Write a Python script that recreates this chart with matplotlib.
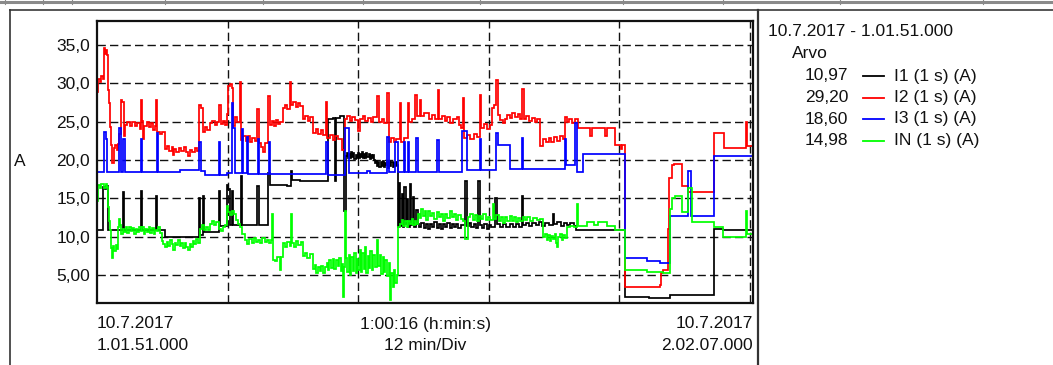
import matplotlib
matplotlib.use("Agg")
import matplotlib.pyplot as plt

plt.rcParams['font.family'] = ['Liberation Sans', 'DejaVu Sans']

# ---------------- data (time in minutes from 1:01:51, current in A) ----------------
I1 = [(0.00, 10.9), (0.55, 16.5), (0.70, 16.2), (0.85, 16.6), (1.01, 10.9), (2.39, 15.8), (2.50, 10.9),
      (4.04, 16.0), (4.15, 10.9), (5.45, 15.3), (5.55, 10.9), (6.25, 10.0), (7.50, 9.9), (9.37, 15.1),
      (9.50, 10.2), (9.70, 15.3), (9.82, 10.6), (11.21, 16.0), (11.32, 11.4), (11.94, 16.8), (12.04, 16.2),
      (12.22, 11.5), (12.40, 16.0), (12.50, 11.5), (13.20, 17.9), (13.32, 11.5), (14.70, 16.6), (14.85, 11.5),
      (15.71, 18.3), (15.85, 16.7), (16.50, 16.8), (17.50, 16.6), (17.82, 18.6), (17.92, 17.4), (18.65, 17.2),
      (19.50, 17.3), (21.22, 25.3), (21.70, 25.5), (21.87, 17.3), (21.96, 25.5), (22.33, 25.7), (22.70, 13.4),
      (22.85, 20.5), (22.95, 20.9), (23.05, 20.2), (23.15, 20.8), (23.25, 20.3), (23.35, 21.0), (23.45, 20.4),
      (23.55, 20.9), (23.65, 20.1), (23.75, 20.7), (23.85, 20.3), (23.95, 20.9), (24.05, 20.2), (24.15, 20.8),
      (24.25, 20.4), (24.35, 21.0), (24.45, 20.3), (24.55, 20.8), (24.65, 20.2), (24.75, 20.9), (24.85, 20.4),
      (24.95, 20.8), (25.05, 20.1), (25.15, 20.7), (25.25, 20.3), (25.35, 20.6), (25.45, 20.0), (25.55, 19.6),
      (25.65, 19.9), (25.75, 19.2), (25.85, 19.8), (25.95, 19.1), (26.05, 19.7), (26.15, 19.2), (26.25, 19.9),
      (26.35, 19.1), (26.45, 19.6), (26.55, 19.3), (26.65, 19.8), (26.75, 19.0), (26.85, 19.7), (26.95, 19.2),
      (27.05, 19.8), (27.15, 19.1), (27.25, 19.6), (27.35, 19.2), (27.45, 19.8), (27.55, 19.3), (27.66, 11.2),
      (27.75, 17.0), (27.85, 11.4), (28.00, 15.5), (28.10, 11.3), (28.25, 16.5), (28.35, 11.6), (28.50, 14.9),
      (28.60, 11.2), (28.75, 16.9), (28.85, 11.5), (29.00, 15.2), (29.10, 11.3), (29.35, 13.5), (29.45, 11.7),
      (29.60, 11.2), (29.80, 11.8), (30.00, 11.1), (30.20, 11.7), (30.40, 11.0), (30.60, 11.6), (30.80, 11.2),
      (31.00, 11.9), (31.20, 11.1), (31.40, 11.6), (31.60, 11.0), (31.80, 11.7), (32.00, 11.3), (32.20, 11.8),
      (32.40, 11.1), (32.60, 11.6), (32.80, 11.2), (33.00, 11.7), (33.20, 11.1), (33.40, 11.5), (33.81, 17.2),
      (34.00, 11.4), (34.20, 11.8), (34.40, 11.2), (34.60, 11.7), (34.80, 11.1), (35.01, 17.2), (35.19, 11.5),
      (35.40, 11.1), (35.60, 11.6), (35.80, 11.0), (36.00, 11.5), (36.20, 11.2), (36.57, 15.1), (36.75, 11.6),
      (37.00, 11.2), (37.30, 11.7), (37.60, 11.3), (37.90, 11.7), (38.20, 11.2), (38.50, 11.6), (38.80, 11.3),
      (39.05, 15.3), (39.15, 11.5), (39.40, 11.8), (39.70, 11.4), (40.00, 11.8), (40.30, 11.5), (40.60, 11.9),
      (40.90, 11.4), (41.20, 11.8), (41.50, 11.5), (41.90, 13.0), (42.00, 11.6), (42.30, 11.9), (42.60, 11.4),
      (42.90, 11.8), (43.20, 11.5), (43.50, 11.8), (43.80, 11.4), (44.00, 10.9), (48.51, 2.15), (50.72, 1.95),
      (52.65, 2.35), (56.68, 11.0), (57.51, 10.8), (60.27, 10.8)]

I2 = [(0.00, 28.9), (0.08, 30.6), (0.25, 30.2), (0.40, 31.0), (0.55, 30.6), (0.64, 34.6), (0.75, 33.9),
      (0.85, 34.3), (0.92, 33.7), (1.01, 29.2), (1.12, 27.4), (1.22, 24.3), (1.30, 22.0), (1.40, 19.6),
      (1.52, 21.6), (1.65, 21.9), (1.80, 21.3), (1.93, 22.1), (2.05, 23.4), (2.20, 27.9), (2.32, 27.6),
      (2.45, 23.1), (2.60, 24.6), (2.80, 24.9), (3.00, 24.4), (3.20, 24.9), (3.45, 24.5), (3.70, 24.8),
      (3.95, 24.1), (4.04, 27.9), (4.15, 25.1), (4.23, 22.8), (4.35, 24.4), (4.55, 24.9), (4.75, 24.3),
      (4.95, 24.8), (5.15, 23.9), (5.33, 24.5), (5.42, 27.9), (5.55, 23.7), (5.75, 23.4), (6.00, 23.7),
      (6.25, 21.4), (6.45, 21.8), (6.65, 21.2), (6.85, 21.7), (6.98, 20.6), (7.10, 21.5), (7.30, 21.0),
      (7.50, 21.6), (7.70, 21.2), (7.95, 21.7), (8.15, 21.1), (8.36, 20.5), (8.50, 21.3), (8.75, 21.0),
      (9.00, 21.6), (9.20, 21.2), (9.37, 27.2), (9.55, 26.8), (9.74, 23.7), (9.95, 24.3), (10.15, 23.9),
      (10.35, 24.8), (10.55, 25.1), (10.80, 24.6), (11.03, 25.0), (11.21, 27.2), (11.35, 24.7), (11.55, 25.1),
      (11.76, 24.6), (11.94, 26.0), (12.04, 29.6), (12.22, 29.9), (12.40, 29.4), (12.50, 24.4), (12.68, 25.6),
      (12.85, 24.9), (13.14, 30.2), (13.25, 22.6), (13.45, 23.2), (13.65, 22.5), (13.85, 23.1), (14.05, 22.4),
      (14.25, 22.9), (14.50, 22.5), (14.70, 26.6), (14.85, 22.2), (15.05, 21.7), (15.25, 21.0), (15.44, 22.2),
      (15.71, 28.4), (15.85, 24.6), (16.05, 25.1), (16.25, 24.5), (16.45, 25.2), (16.65, 24.7), (16.85, 25.0),
      (17.09, 26.8), (17.30, 27.2), (17.50, 26.6), (17.73, 30.2), (17.85, 27.2), (18.05, 27.6), (18.25, 26.9),
      (18.45, 27.5), (18.65, 27.0), (18.93, 25.3), (19.15, 25.8), (19.35, 25.1), (19.57, 25.6), (19.85, 23.5),
      (20.10, 24.0), (20.30, 23.4), (20.55, 23.9), (20.80, 23.3), (21.04, 27.6), (21.15, 22.9), (21.40, 23.3),
      (21.65, 22.6), (21.90, 23.2), (22.15, 22.7), (22.51, 21.3), (22.79, 25.3), (23.00, 25.7), (23.20, 25.1),
      (23.45, 25.6), (23.70, 25.2), (23.98, 23.8), (24.16, 25.3), (24.40, 25.8), (24.65, 25.1), (24.90, 25.5),
      (25.15, 25.0), (25.40, 25.6), (25.73, 28.3), (25.90, 25.0), (26.15, 25.4), (26.40, 24.8), (26.65, 28.7),
      (26.80, 22.4), (27.00, 22.9), (27.25, 22.3), (27.50, 22.8), (27.84, 27.5), (27.95, 22.4), (28.20, 22.9),
      (28.57, 27.5), (28.70, 25.0), (28.95, 25.4), (29.22, 28.5), (29.40, 25.7), (29.68, 27.8), (29.80, 25.7),
      (30.05, 26.1), (30.32, 26.2), (30.50, 25.4), (30.75, 25.9), (31.05, 25.3), (31.33, 29.2), (31.45, 25.3),
      (31.70, 25.8), (31.95, 25.1), (32.20, 25.6), (32.45, 24.8), (32.70, 25.4), (33.08, 25.6), (33.25, 24.6),
      (33.45, 24.2), (33.63, 28.1), (33.75, 22.9), (34.00, 23.3), (34.30, 22.8), (34.60, 23.4), (34.90, 23.0),
      (35.19, 28.5), (35.30, 24.2), (35.55, 24.7), (35.80, 24.1), (36.11, 24.6), (36.29, 26.8), (36.50, 27.2),
      (36.66, 30.4), (36.80, 25.9), (37.00, 25.2), (37.30, 24.8), (37.50, 25.4), (37.67, 25.9), (37.90, 25.5),
      (38.15, 26.1), (38.40, 25.6), (38.65, 26.0), (38.85, 25.4), (39.05, 29.3), (39.20, 25.3), (39.45, 25.8),
      (39.70, 25.1), (39.95, 25.5), (40.20, 25.0), (40.43, 25.3), (40.70, 21.8), (40.98, 22.8), (41.25, 22.3),
      (41.50, 22.9), (41.75, 22.4), (42.00, 23.0), (42.25, 22.5), (42.50, 23.1), (42.82, 22.7), (43.00, 25.6),
      (43.18, 24.9), (43.40, 25.3), (43.60, 24.8), (43.92, 25.4), (44.20, 24.2), (45.30, 23.1), (45.50, 24.2),
      (46.68, 23.1), (46.85, 24.2), (47.59, 21.9), (47.85, 22.0), (48.10, 21.4), (48.25, 22.0), (48.51, 3.45),
      (51.73, 3.7), (51.85, 5.2), (52.00, 5.6), (52.45, 11.0), (52.55, 17.7), (52.80, 19.3), (53.00, 19.5),
      (53.72, 16.6), (54.30, 15.8), (56.68, 23.5), (57.58, 21.6), (59.63, 25.0), (59.72, 21.8), (60.27, 21.8)]

I3 = [(0.00, 18.4), (0.64, 23.7), (0.80, 22.7), (0.95, 18.4), (2.02, 24.2), (2.18, 18.4), (2.36, 22.7),
      (2.57, 18.4), (4.04, 22.7), (4.15, 18.4), (5.51, 23.5), (5.62, 18.4), (7.63, 18.65), (9.37, 22.3),
      (9.60, 18.6), (9.92, 18.1), (11.21, 22.3), (11.32, 18.1), (11.94, 18.3), (12.40, 27.4), (12.50, 24.2),
      (12.68, 18.3), (13.32, 24.0), (13.42, 18.3), (13.78, 23.0), (13.88, 18.2), (14.79, 22.8), (14.90, 18.2),
      (15.80, 22.3), (15.90, 18.2), (21.04, 22.3), (21.22, 18.1), (22.79, 24.2), (23.15, 18.35), (24.80, 18.6),
      (25.10, 18.35), (26.65, 23.0), (26.80, 18.4), (27.40, 22.4), (27.66, 18.4), (28.20, 22.3), (28.30, 18.4),
      (28.57, 22.4), (28.70, 18.4), (29.31, 22.9), (29.45, 18.4), (31.24, 22.6), (31.42, 18.4), (33.54, 23.8),
      (34.00, 18.7), (35.19, 22.8), (35.32, 18.7), (36.66, 23.5), (36.84, 22.0), (37.95, 18.8), (39.05, 22.9),
      (39.18, 18.8), (43.00, 22.8), (43.12, 19.4), (43.92, 24.8), (44.10, 18.5), (44.65, 20.8), (48.51, 7.25),
      (50.53, 6.8), (51.73, 6.5), (52.65, 12.7), (54.30, 18.6), (54.60, 12.7), (56.68, 20.5), (60.27, 20.5)]

IN = [(0.00, 14.7), (0.08, 16.8), (0.25, 16.3), (0.40, 16.9), (0.60, 16.4), (0.80, 16.9), (0.92, 16.5),
      (1.01, 13.8), (1.12, 12.0), (1.19, 10.8), (1.30, 8.5), (1.38, 7.2), (1.48, 8.8), (1.58, 8.1), (1.70, 8.9),
      (1.82, 8.4), (1.93, 11.2), (2.05, 12.3), (2.15, 11.5), (2.25, 10.4), (2.35, 11.0), (2.50, 10.6),
      (2.65, 11.2), (2.80, 10.5), (2.95, 11.3), (3.10, 10.7), (3.25, 11.1), (3.40, 10.4), (3.55, 11.0),
      (3.70, 10.6), (3.85, 11.3), (4.00, 10.7), (4.15, 11.2), (4.30, 10.3), (4.45, 11.0), (4.60, 10.6),
      (4.75, 11.2), (4.90, 10.5), (5.05, 11.1), (5.20, 10.4), (5.35, 10.9), (5.50, 10.7), (5.65, 11.2),
      (5.79, 10.5), (5.95, 9.4), (6.10, 9.0), (6.25, 8.6), (6.40, 9.3), (6.55, 8.8), (6.70, 9.6), (6.85, 9.0),
      (7.00, 8.3), (7.15, 9.2), (7.30, 8.9), (7.45, 9.5), (7.60, 8.8), (7.75, 9.2), (7.90, 8.5), (8.05, 9.1),
      (8.20, 8.7), (8.36, 8.2), (8.50, 9.0), (8.65, 8.6), (8.80, 9.4), (8.95, 9.0), (9.10, 9.7), (9.25, 9.2),
      (9.46, 11.0), (9.65, 11.5), (9.85, 10.8), (10.05, 11.3), (10.20, 10.9), (10.38, 11.7), (10.55, 12.1),
      (10.75, 11.5), (10.95, 11.9), (11.21, 11.0), (11.40, 10.7), (11.60, 11.2), (11.80, 11.5), (11.94, 14.0),
      (12.08, 13.2), (12.25, 12.8), (12.40, 13.4), (12.60, 12.9), (12.80, 12.2), (12.96, 11.7), (13.15, 11.2),
      (13.35, 10.4), (13.60, 9.5), (13.80, 9.0), (14.00, 9.7), (14.20, 9.2), (14.40, 9.8), (14.60, 9.3),
      (14.80, 9.6), (15.00, 9.1), (15.20, 9.8), (15.40, 9.3), (15.60, 9.6), (15.80, 9.2), (15.95, 9.5),
      (16.08, 13.0), (16.15, 7.0), (16.35, 6.8), (16.55, 7.3), (16.81, 5.6), (16.95, 7.4), (17.09, 9.1),
      (17.30, 8.6), (17.50, 9.3), (17.70, 8.8), (17.82, 13.0), (17.92, 9.1), (18.10, 8.7), (18.30, 9.4),
      (18.50, 8.9), (18.70, 9.3), (18.93, 7.5), (19.10, 7.9), (19.30, 7.2), (19.55, 7.7), (19.85, 5.8),
      (20.00, 6.3), (20.15, 5.3), (20.30, 6.0), (20.45, 5.5), (20.60, 6.2), (20.75, 5.2), (20.95, 6.0),
      (21.10, 6.6), (21.20, 5.6), (21.35, 6.9), (21.50, 5.9), (21.65, 7.1), (21.80, 5.8), (21.95, 7.0),
      (22.10, 6.2), (22.25, 7.2), (22.40, 5.5), (22.55, 6.4), (22.60, 2.15), (22.70, 6.0), (22.79, 13.4),
      (22.88, 7.2), (23.00, 5.4), (23.12, 7.6), (23.25, 5.0), (23.38, 7.4), (23.50, 5.5), (23.62, 7.8),
      (23.75, 5.2), (23.88, 7.1), (24.00, 5.6), (24.12, 8.2), (24.25, 5.4), (24.38, 7.9), (24.50, 5.8),
      (24.62, 8.6), (24.75, 5.3), (24.88, 7.5), (25.00, 5.9), (25.12, 8.1), (25.25, 5.6), (25.38, 7.6),
      (25.50, 6.0), (25.73, 9.5), (25.85, 6.2), (26.00, 7.6), (26.12, 5.1), (26.25, 7.3), (26.38, 5.4),
      (26.50, 7.0), (26.65, 4.9), (26.80, 6.6), (26.92, 1.7), (27.02, 5.2), (27.15, 3.4), (27.28, 5.6),
      (27.40, 3.9), (27.52, 5.0), (27.66, 11.2), (27.84, 11.7), (28.00, 12.2), (28.15, 11.4), (28.30, 12.0),
      (28.45, 11.3), (28.60, 12.1), (28.75, 11.6), (28.90, 12.3), (29.05, 11.5), (29.20, 12.0), (29.35, 11.7),
      (29.49, 13.0), (29.65, 12.4), (29.80, 13.6), (29.95, 12.7), (30.10, 13.3), (30.25, 12.2), (30.40, 13.4),
      (30.60, 12.7), (30.80, 13.1), (31.00, 12.3), (31.20, 13.2), (31.40, 12.5), (31.60, 13.0), (31.80, 12.1),
      (32.00, 12.9), (32.20, 12.4), (32.40, 13.3), (32.60, 12.5), (32.80, 12.9), (33.00, 12.2), (33.20, 12.8),
      (33.40, 12.3), (33.60, 12.0), (33.81, 9.7), (34.09, 12.5), (34.30, 12.9), (34.50, 12.2), (34.70, 12.8),
      (34.90, 12.1), (35.10, 12.7), (35.30, 12.3), (35.50, 12.9), (35.70, 12.2), (35.90, 12.6), (36.10, 12.2),
      (36.38, 14.3), (36.50, 12.3), (36.70, 12.8), (36.90, 12.0), (37.10, 12.6), (37.30, 11.8), (37.50, 12.5),
      (37.70, 12.1), (37.90, 12.7), (38.10, 12.0), (38.30, 12.6), (38.50, 11.9), (38.70, 12.4), (38.90, 12.0),
      (39.10, 12.6), (39.30, 12.2), (39.50, 12.5), (39.80, 12.1), (40.10, 12.4), (40.40, 12.2), (40.70, 12.3),
      (40.98, 9.9), (41.15, 10.4), (41.30, 9.6), (41.45, 10.2), (41.60, 9.4), (41.75, 10.1), (41.90, 9.7),
      (42.05, 10.3), (42.20, 9.2), (42.27, 8.6), (42.40, 9.9), (42.55, 10.4), (42.70, 9.5), (42.85, 10.2),
      (43.00, 9.8), (43.18, 11.3), (43.50, 11.4), (43.80, 11.2), (44.10, 14.3), (44.20, 11.4), (45.02, 11.9),
      (45.70, 11.5), (46.00, 11.9), (46.86, 11.4), (47.59, 10.9), (48.51, 5.6), (50.53, 5.4), (52.00, 5.2),
      (52.60, 13.6), (52.83, 15.1), (53.11, 15.3), (53.75, 13.2), (54.30, 16.4), (54.67, 11.9), (56.68, 11.3),
      (57.51, 9.9), (59.63, 13.4), (59.72, 10.4), (60.27, 10.4)]

series_names = ["I1 (1 s) (A)", "I2 (1 s) (A)", "I3 (1 s) (A)", "IN (1 s) (A)"]
series_values = ["10,97", "29,20", "18,60", "14,98"]
series_colors = ["#000000", "#ff0000", "#0000ff", "#00ff00"]
series_data = [I1, I2, I3, IN]

y_ticks = [5, 10, 15, 20, 25, 30, 35]
y_tick_labels = ["5,00", "10,0", "15,0", "20,0", "25,0", "30,0", "35,0"]
x_grid = [12, 24, 36, 48, 60]
duration_min = 60.27
y_range = (1.37, 38.15)

# ---------------- figure ----------------
W, H = 1053, 365
fig = plt.figure(figsize=(W / 100, H / 100), dpi=100)
fig.patch.set_facecolor("white")

def fx(px):
    return px / W

def fy(py):
    return 1 - py / H

# outer decorations (table header strip and frames)
deco = fig.add_axes([0, 0, 1, 1])
deco.set_xlim(0, W)
deco.set_ylim(H, 0)
deco.axis("off")
deco.plot([0, W], [1.5, 1.5], color="#8a8a8a", lw=2.2)
for sx in [5, 43, 72, 165, 263, 363, 480, 623, 723, 840, 983]:
    deco.plot([sx, sx], [0, 3.5], color="#8a8a8a", lw=0.8)
deco.plot([10, W], [10, 10], color="#555555", lw=1.4)
deco.plot([10, 10], [10, H], color="#333333", lw=1.2)
deco.plot([757.5, 757.5], [10, H], color="#333333", lw=1.6)

# main plot
ax = fig.add_axes([fx(97), fy(302.7), (753 - 97) / W, (302.7 - 21) / H])
for data, col in zip(series_data, series_colors):
    t = [p[0] for p in data]
    v = [p[1] for p in data]
    ax.plot(t, v, color=col, lw=1.25, drawstyle="steps-post", solid_joinstyle="miter")

ax.set_xlim(0, duration_min)
ax.set_ylim(*y_range)
ax.set_yticks(y_ticks)
ax.set_yticklabels(y_tick_labels, fontsize=12.5, color="#111111")
ax.set_xticks(x_grid)
ax.set_xticklabels([])
ax.tick_params(axis="both", length=0, pad=5)
ax.grid(True, color="#111111", lw=1.0, linestyle=(0, (6, 3)))
ax.set_axisbelow(True)
for s in ax.spines.values():
    s.set_linewidth(1.6)
    s.set_color("#111111")

# axis texts
fs = 12.5
fig.text(fx(19.5), fy(162), "A", fontsize=fs, ha="center", va="center", color="#111111")
fig.text(fx(97), fy(324), "10.7.2017", fontsize=fs, ha="left", va="center", color="#111111")
fig.text(fx(97), fy(346), "1.01.51.000", fontsize=fs, ha="left", va="center", color="#111111")
fig.text(fx(425), fy(324), "1:00:16 (h:min:s)", fontsize=fs, ha="center", va="center", color="#111111")
fig.text(fx(425), fy(346), "12 min/Div", fontsize=fs, ha="center", va="center", color="#111111")
fig.text(fx(753), fy(324), "10.7.2017", fontsize=fs, ha="right", va="center", color="#111111")
fig.text(fx(753), fy(346), "2.02.07.000", fontsize=fs, ha="right", va="center", color="#111111")

# legend panel
fig.text(fx(768), fy(32), "10.7.2017 - 1.01.51.000", fontsize=fs, ha="left", va="center", color="#111111")
fig.text(fx(792), fy(54), "Arvo", fontsize=fs, ha="left", va="center", color="#111111")
row_y = [76, 97.5, 119, 140.5]
for ry, name, val, col in zip(row_y, series_names, series_values, series_colors):
    fig.text(fx(848), fy(ry), val, fontsize=fs, ha="right", va="center", color="#111111")
    deco.plot([863, 884], [ry, ry], color=col, lw=1.3)
    fig.text(fx(894), fy(ry), name, fontsize=fs, ha="left", va="center", color="#111111")

fig.savefig("out.png", dpi=100, facecolor="white")
